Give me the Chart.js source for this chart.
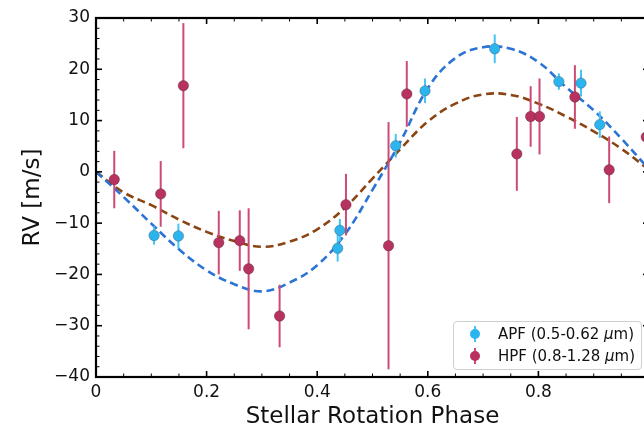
<!DOCTYPE html>
<html>
<head>
<meta charset="utf-8">
<script src="https://cdn.jsdelivr.net/npm/chart.js@4.4.1/dist/chart.umd.min.js"></script>
<style>
  html, body { margin: 0; padding: 0; background: #fff; overflow: hidden; }
  #wrap { position: relative; width: 680px; height: 428px; }
  #legend {
    position: absolute; left: 453px; top: 321px; width: 187px; height: 47px;
    border: 1px solid #cfcfcf; border-radius: 4px; background: rgba(255,255,255,0.85);
    font-family: 'DejaVu Sans', sans-serif; font-size: 15px; color: #111;
  }
  .row { position: absolute; left: 0; height: 20px; display: flex; align-items: center; }
  .row svg { margin-left: 14px; }
  .row span { margin-left: 16px; white-space: nowrap; }
</style>
</head>
<body>
<div id="wrap">
  <canvas id="rv" width="680" height="428"></canvas>
  <div id="legend">
    <div class="row" style="top:2px">
      <svg width="14" height="20"><line x1="7" y1="2" x2="7" y2="18" stroke="#45c3f5" stroke-width="2"/><circle cx="7" cy="10" r="5" fill="#2bb5ef"/></svg>
      <span>APF (0.5-0.62 <i>μ</i>m)</span>
    </div>
    <div class="row" style="top:24px">
      <svg width="14" height="20"><line x1="7" y1="2" x2="7" y2="18" stroke="#cc4a78" stroke-width="2"/><circle cx="7" cy="10" r="5" fill="#b8325f"/></svg>
      <span>HPF (0.8-1.28 <i>μ</i>m)</span>
    </div>
  </div>
</div>
<script>
// measured points (phase, RV, 1-sigma)
const apfPhase = [0.105, 0.149, 0.437, 0.441, 0.542, 0.595, 0.721, 0.837, 0.877, 0.911];
const apfRV = [-12.4, -12.5, -14.9, -11.4, 5.1, 15.8, 24.0, 17.6, 17.3, 9.2];
const apfErr = [1.8, 2.4, 2.6, 2.2, 2.3, 2.4, 2.8, 1.6, 2.6, 2.6];

const hpfPhase = [0.033, 0.117, 0.158, 0.222, 0.260, 0.276, 0.332, 0.452, 0.529, 0.562, 0.761, 0.786, 0.802, 0.866, 0.928, 0.995];
const hpfRV = [-1.5, -4.3, 16.8, -13.8, -13.4, -18.9, -28.1, -6.4, -14.4, 15.2, 3.5, 10.8, 10.8, 14.6, 0.4, 6.8];
const hpfErr = [5.6, 6.4, 12.2, 6.2, 5.9, 11.8, 6.1, 6.0, 24.1, 6.4, 7.2, 5.9, 7.4, 6.2, 6.5, 6.0];

// model curves
const modelPhase = [0, 0.05, 0.1, 0.15, 0.2, 0.25, 0.3, 0.35, 0.4, 0.45, 0.5, 0.55, 0.6, 0.65, 0.7, 0.75, 0.8, 0.85, 0.9, 0.95, 1.0];
const apfModel = [0, -4.9, -10.1, -15.1, -19.2, -21.9, -23.3, -21.6, -18.2, -12.2, -3.5, 5.8, 16.3, 22.2, 24.3, 24.0, 21.4, 16.5, 12.0, 6.5, 0.5];
const hpfModel = [0, -4.0, -6.5, -9.3, -11.7, -13.5, -14.6, -13.6, -11.2, -7.0, -1.3, 4.4, 9.8, 13.3, 15.1, 15.0, 13.3, 10.8, 7.9, 4.5, 0.4];

const xTickValues = [0, 0.2, 0.4, 0.6, 0.8, 1.0];
const xTickLabels = ['0', '0.2', '0.4', '0.6', '0.8', ''];
const yTickValues = [-40, -30, -20, -10, 0, 10, 20, 30];
const yTickLabels = ['\u221240', '\u221230', '\u221220', '\u221210', '0', '10', '20', '30'];

const FONT = "'DejaVu Sans', sans-serif";

function toPoints(xs, ys) {
  return xs.map((x, i) => ({ x, y: ys[i] }));
}

function labelFor(values, labels, v) {
  const i = values.findIndex((t) => Math.abs(t - v) < 1e-6);
  return i < 0 ? '' : labels[i];
}

const errorBars = {
  id: 'errorBars',
  beforeDatasetDraw(chart, args) {
    const ds = chart.data.datasets[args.index];
    if (!ds.errors) return;
    const { ctx, chartArea } = chart;
    const xs = chart.scales.x;
    const ys = chart.scales.y;
    ctx.save();
    ctx.beginPath();
    ctx.rect(chartArea.left, chartArea.top, chartArea.right - chartArea.left, chartArea.bottom - chartArea.top);
    ctx.clip();
    ctx.strokeStyle = ds.errorColor;
    ctx.lineWidth = 2;
    ds.data.forEach((p, i) => {
      const px = xs.getPixelForValue(p.x);
      ctx.beginPath();
      ctx.moveTo(px, ys.getPixelForValue(p.y - ds.errors[i]));
      ctx.lineTo(px, ys.getPixelForValue(p.y + ds.errors[i]));
      ctx.stroke();
    });
    ctx.restore();
  }
};

// matplotlib-like frame with inward ticks on every side
const frame = {
  id: 'frame',
  afterDraw(chart) {
    const { ctx, chartArea: a } = chart;
    const xs = chart.scales.x;
    const ys = chart.scales.y;
    ctx.save();
    ctx.strokeStyle = '#000';
    const tick = (x0, y0, x1, y1, w) => {
      ctx.lineWidth = w;
      ctx.beginPath();
      ctx.moveTo(x0, y0);
      ctx.lineTo(x1, y1);
      ctx.stroke();
    };
    for (let k = 0; k <= 20; k++) {
      const v = k * 0.05;
      const px = xs.getPixelForValue(v);
      const major = k % 4 === 0;
      const len = major ? 6 : 3.5;
      const w = major ? 1.6 : 1;
      tick(px, a.bottom, px, a.bottom - len, w);
      tick(px, a.top, px, a.top + len, w);
    }
    for (let v = -40; v <= 30; v += 2) {
      const py = ys.getPixelForValue(v);
      const major = v % 10 === 0;
      const len = major ? 6 : 3.5;
      const w = major ? 1.6 : 1;
      tick(a.left, py, a.left + len, py, w);
      tick(a.right, py, a.right - len, py, w);
    }
    ctx.lineWidth = 2.2;
    ctx.strokeRect(a.left, a.top, a.right - a.left, a.bottom - a.top);
    ctx.restore();
  }
};

new Chart(document.getElementById('rv'), {
  type: 'scatter',
  data: {
    datasets: [
      {
        label: 'APF (0.5-0.62 μm)',
        data: toPoints(apfPhase, apfRV),
        errors: apfErr,
        errorColor: '#45c3f5',
        backgroundColor: '#2bb5ef',
        borderColor: 'rgba(70,90,110,0.45)',
        borderWidth: 1,
        pointRadius: 5.2,
        order: 0
      },
      {
        label: 'HPF (0.8-1.28 μm)',
        data: toPoints(hpfPhase, hpfRV),
        errors: hpfErr,
        errorColor: '#cc4a78',
        backgroundColor: '#b8325f',
        borderColor: 'rgba(90,40,60,0.45)',
        borderWidth: 1,
        pointRadius: 5.2,
        order: 1
      },
      {
        label: 'APF model',
        data: toPoints(modelPhase, apfModel),
        showLine: true,
        borderColor: '#2b74d6',
        borderWidth: 2.6,
        borderDash: [8, 4.5],
        pointRadius: 0,
        tension: 0.4,
        order: 2
      },
      {
        label: 'HPF model',
        data: toPoints(modelPhase, hpfModel),
        showLine: true,
        borderColor: '#8b4513',
        borderWidth: 2.6,
        borderDash: [8, 4.5],
        pointRadius: 0,
        tension: 0.4,
        order: 3
      }
    ]
  },
  options: {
    responsive: false,
    animation: false,
    devicePixelRatio: 1,
    layout: { padding: { top: 18, right: 31, left: 0, bottom: 0 } },
    plugins: {
      legend: { display: false },
      tooltip: { enabled: false }
    },
    scales: {
      x: {
        type: 'linear',
        min: 0,
        max: 1,
        afterBuildTicks: (scale) => { scale.ticks = xTickValues.map((value) => ({ value })); },
        afterFit: (scale) => { scale.height = 51; },
        grid: { display: false, drawTicks: false },
        border: { display: false },
        ticks: {
          color: '#111',
          padding: 5,
          maxRotation: 0,
          font: { family: FONT, size: 17 },
          callback: (v) => labelFor(xTickValues, xTickLabels, v)
        },
        title: {
          display: true,
          text: 'Stellar Rotation Phase',
          color: '#111',
          font: { family: FONT, size: 23 },
          padding: { top: 0, bottom: -3 }
        }
      },
      y: {
        type: 'linear',
        min: -40,
        max: 30,
        afterBuildTicks: (scale) => { scale.ticks = yTickValues.map((value) => ({ value })); },
        afterFit: (scale) => { scale.width = 96; },
        grid: { display: false, drawTicks: false },
        border: { display: false },
        ticks: {
          color: '#111',
          padding: 6,
          font: { family: FONT, size: 17 },
          callback: (v) => labelFor(yTickValues, yTickLabels, v)
        },
        title: {
          display: true,
          text: 'RV [m/s]',
          color: '#111',
          font: { family: FONT, size: 23 },
          padding: { top: 19, bottom: 0 }
        }
      }
    }
  },
  plugins: [errorBars, frame]
});
</script>
</body>
</html>
